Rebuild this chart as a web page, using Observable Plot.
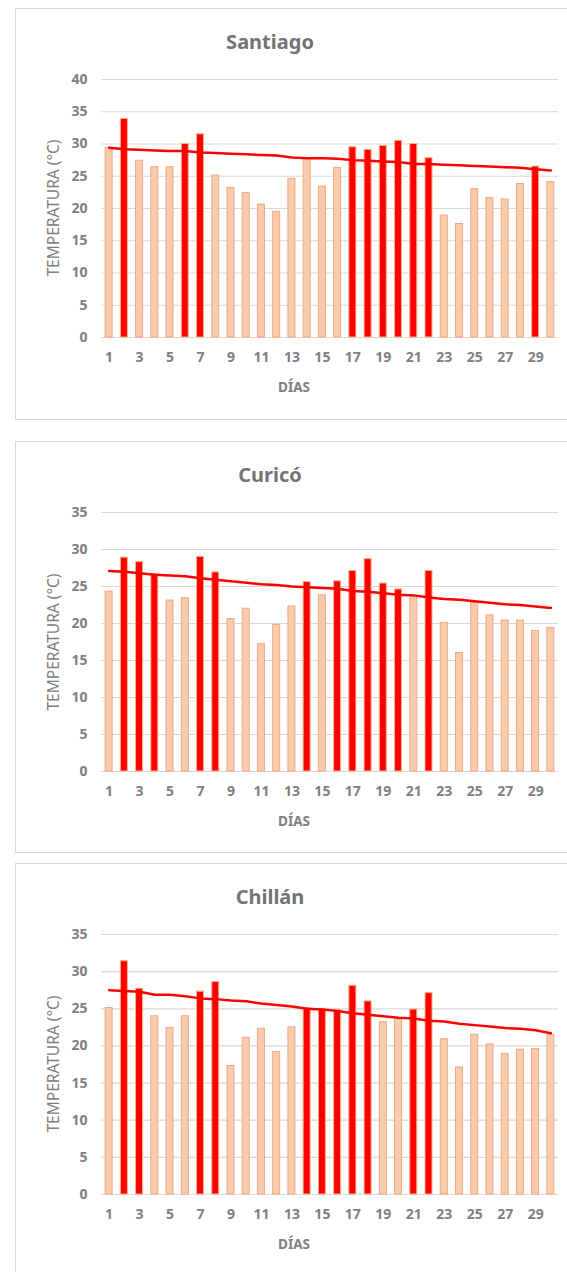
<!DOCTYPE html>
<html>
<head>
<meta charset="utf-8">
<script src="https://cdn.jsdelivr.net/npm/d3@7"></script>
<script src="https://cdn.jsdelivr.net/npm/@observablehq/plot@0.6"></script>
<style>
  html, body { margin: 0; padding: 0; background: #fff; }
  #page { position: relative; width: 567px; height: 1272px; overflow: hidden; font-family: "Noto Sans", sans-serif; }
  .box { position: absolute; left: 15px; width: 600px; border: 1.5px solid #d9d9d9; box-sizing: border-box; background: #fff; }
  .title { position: absolute; left: 0; width: 540px; text-align: center; font-size: 20px; font-weight: bold; color: #737373; line-height: 24px; }
  .chart { position: absolute; left: 0; }
  .ylab { position: absolute; width: 200px; height: 18px; line-height: 18px; text-align: center; font-size: 15.5px; color: #808080; transform-origin: center center; transform: rotate(-90deg); }
  .xlab { position: absolute; width: 100px; height: 18px; line-height: 18px; text-align: center; font-size: 13.5px; font-weight: bold; color: #808080; }
</style>
</head>
<body>
<div id="page"></div>
<script>
const days = d3.range(1, 31);
const xTickLabels = [1, 3, 5, 7, 9, 11, 13, 15, 17, 19, 21, 23, 25, 27, 29];

const santiagoTemps = [29.4, 33.9, 27.4, 26.4, 26.4, 30.0, 31.5, 25.1, 23.2, 22.4, 20.6, 19.5, 24.6, 27.7, 23.4, 26.3, 29.5, 29.1, 29.7, 30.5, 30.0, 27.8, 18.9, 17.6, 23.0, 21.6, 21.4, 23.8, 26.5, 24.1];
const santiagoNormal = [29.4, 29.2, 29.1, 29.0, 28.9, 28.9, 28.7, 28.6, 28.5, 28.4, 28.3, 28.2, 27.9, 27.8, 27.8, 27.7, 27.5, 27.4, 27.3, 27.2, 26.9, 26.9, 26.8, 26.7, 26.6, 26.5, 26.4, 26.3, 26.1, 25.9];

const curicoTemps = [24.3, 28.9, 28.3, 26.7, 23.1, 23.4, 29.0, 26.9, 20.6, 22.0, 17.2, 19.8, 22.3, 25.6, 23.8, 25.7, 27.1, 28.7, 25.4, 24.6, 23.4, 27.1, 20.1, 16.0, 22.8, 21.1, 20.4, 20.4, 19.0, 19.4];
const curicoNormal = [27.1, 27.0, 26.8, 26.6, 26.5, 26.4, 26.1, 25.9, 25.7, 25.5, 25.3, 25.2, 25.0, 24.9, 24.8, 24.7, 24.4, 24.3, 24.1, 23.9, 23.8, 23.5, 23.3, 23.2, 23.0, 22.8, 22.6, 22.5, 22.3, 22.1];

const chillanTemps = [25.1, 31.4, 27.7, 24.0, 22.4, 24.0, 27.3, 28.6, 17.3, 21.1, 22.3, 19.2, 22.5, 25.1, 25.0, 24.8, 28.1, 26.0, 23.2, 23.6, 24.9, 27.1, 20.9, 17.1, 21.5, 20.2, 18.9, 19.5, 19.6, 21.5];
const chillanNormal = [27.5, 27.4, 27.3, 26.9, 26.9, 26.7, 26.4, 26.3, 26.1, 26.0, 25.7, 25.5, 25.3, 25.0, 24.9, 24.7, 24.4, 24.2, 24.0, 23.8, 23.7, 23.4, 23.3, 23.0, 22.8, 22.6, 22.4, 22.3, 22.1, 21.7];

const cities = [
  {name: "Santiago", temps: santiagoTemps, normal: santiagoNormal, ymax: 40, top: 8, boxH: 412, plotBottom: 329},
  {name: "Curicó", temps: curicoTemps, normal: curicoNormal, ymax: 35, top: 441, boxH: 412, plotBottom: 330},
  {name: "Chillán", temps: chillanTemps, normal: chillanNormal, ymax: 35, top: 863, boxH: 430, plotBottom: 331}
];

const page = document.getElementById("page");
const H = 412;
const MT = 71;

for (const c of cities) {
  const box = document.createElement("div");
  box.className = "box";
  box.style.top = c.top + "px";
  box.style.height = c.boxH + "px";
  page.appendChild(box);

  const data = days.map((d, i) => ({day: d, t: c.temps[i], n: c.normal[i]}));

  const chart = Plot.plot({
    width: 567,
    height: H,
    marginLeft: 101,
    marginRight: 9,
    marginTop: MT,
    marginBottom: H - c.plotBottom,
    style: {fontFamily: "Noto Sans, sans-serif", background: "transparent", overflow: "visible"},
    x: {type: "band", domain: days, paddingInner: 0.54, paddingOuter: 0.27, round: false, label: null},
    y: {domain: [0, c.ymax], label: null},
    marks: [
      Plot.gridY(d3.range(0, c.ymax + 1, 5), {stroke: "#d9d9d9", strokeOpacity: 1, strokeWidth: 1.2}),
      Plot.barY(data, {
        x: "day", y: "t",
        fill: d => d.t > d.n ? "#ff0000" : "#f8cbad",
        stroke: d => d.t > d.n ? "#f4b183" : "#f1a882",
        strokeWidth: 1
      }),
      Plot.line(data, {x: "day", y: "n", stroke: "#ff0000", strokeWidth: 2.5, curve: "linear"}),
      Plot.axisY(d3.range(0, c.ymax + 1, 5), {
        tickSize: 0, tickPadding: 14, fontSize: 14, fontWeight: "bold", fill: "#808080", label: null
      }),
      Plot.axisX(xTickLabels, {
        tickSize: 0, tickPadding: 15, fontSize: 14, fontWeight: "bold", fill: "#808080", label: null
      })
    ]
  });
  chart.classList.add("chart");
  chart.style.top = c.top + "px";
  page.appendChild(chart);

  const plotCenterY = c.top + (MT + c.plotBottom) / 2;
  const yl = document.createElement("div");
  yl.className = "ylab";
  yl.textContent = "TEMPERATURA (°C)";
  yl.style.left = (53 - 100) + "px";
  yl.style.top = (plotCenterY - 9) + "px";
  page.appendChild(yl);

  const xl = document.createElement("div");
  xl.className = "xlab";
  xl.textContent = "DÍAS";
  xl.style.left = (294 - 50) + "px";
  xl.style.top = (c.top + c.plotBottom + 50 - 9) + "px";
  page.appendChild(xl);

  const title = document.createElement("div");
  title.className = "title";
  title.textContent = c.name;
  title.style.top = (c.top + 22) + "px";
  page.appendChild(title);
}
</script>
</body>
</html>
